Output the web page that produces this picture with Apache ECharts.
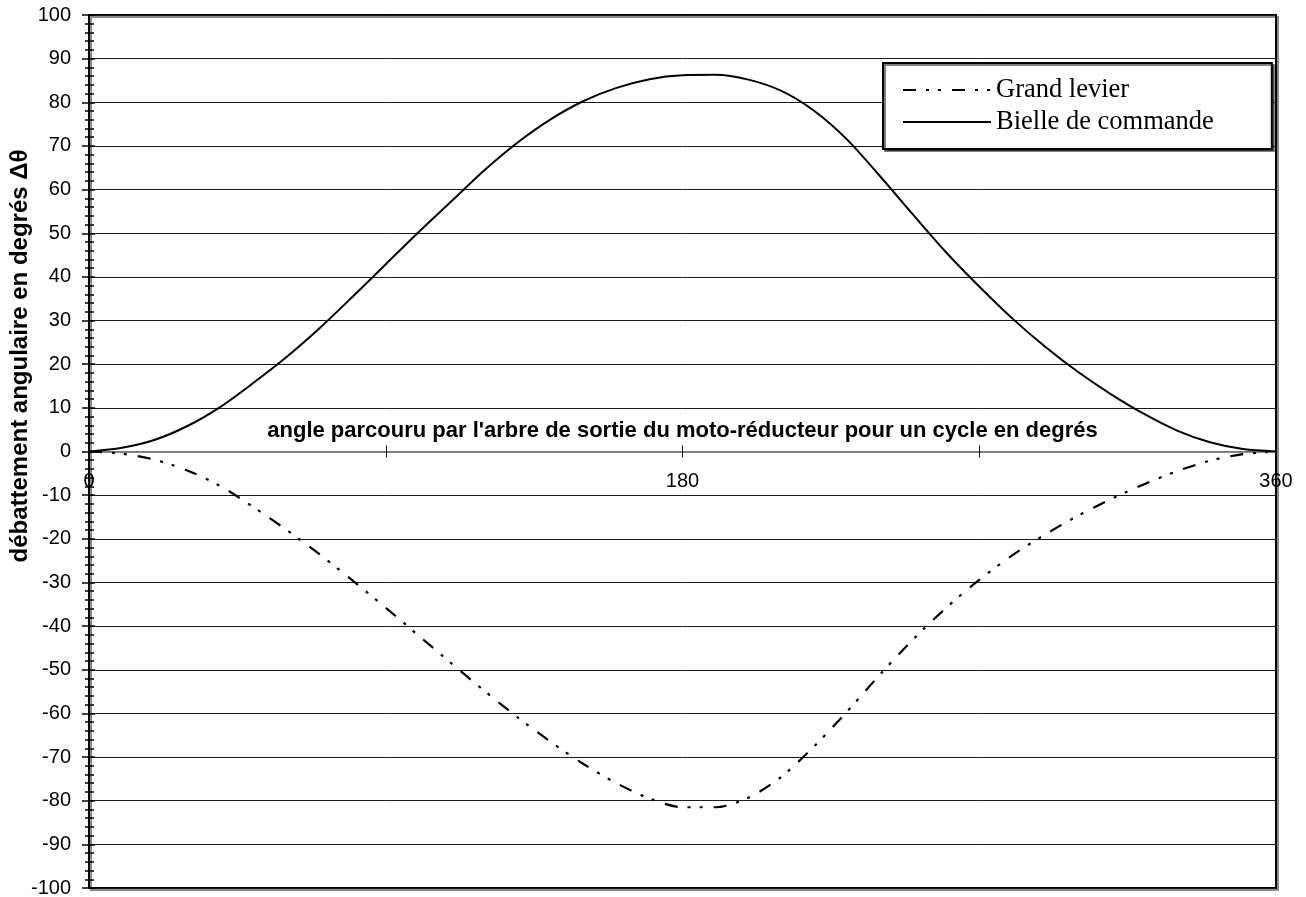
<!DOCTYPE html>
<html>
<head>
<meta charset="utf-8">
<script src="https://cdn.jsdelivr.net/npm/echarts@6/dist/echarts.min.js"></script>
<style>
  html, body { margin: 0; padding: 0; background: #fff; }
  #chart { width: 1306px; height: 897px; }
</style>
</head>
<body>
<div id="chart"></div>
<script>
// angle de l'arbre de sortie (degrés)
const angles = [0, 10, 20, 30, 40, 50, 60, 70, 80, 90, 100, 110, 120, 130, 140, 150, 160, 170, 180,
  190, 200, 210, 220, 230, 240, 250, 260, 270, 280, 290, 300, 310, 320, 330, 340, 350, 360]

// débattement angulaire
const bielle = [0, 0.85, 2.7, 5.9, 10.3, 15.8, 21.7, 28.3, 35.5, 42.9, 50.3, 57.4, 64.5, 70.8, 76.1,
  80.3, 83.3, 85.3, 86.2, 86.3, 85.2, 82.6, 78.0, 71.4, 63.0, 54.2, 45.6, 37.8, 30.5, 24.0,
  18.2, 13.1, 8.6, 4.8, 2.1, 0.55, 0]

const levier = [0, -0.5, -1.9, -4.4, -8.0, -12.8, -18.0, -23.6, -29.6, -35.8, -42.2, -48.6, -54.9,
  -60.9, -66.5, -71.6, -76.0, -79.5, -81.5, -81.5, -79.3, -74.5, -67.5, -59.5, -51.0, -43.0,
  -35.8, -29.4, -23.8, -19.0, -14.7, -10.9, -7.5, -4.5, -2.1, -0.6, 0]

const xTickLabels = ['0', '180', '360']
const seriesNames = ['Grand levier', 'Bielle de commande']
const xTitle = "angle parcouru par l'arbre de sortie du moto-réducteur pour un cycle en degrés"
const yTitle = 'débattement angulaire en degrés Δθ'

const chart = echarts.init(document.getElementById('chart'))

const sans = 'Liberation Sans, Arial, sans-serif'
const serif = 'Liberation Serif, Times New Roman, serif'

const pairs = (ys) => angles.map((a, i) => [a, ys[i]])

// hauteur de la zone de tracé 873 px, l'axe des x passe par 0 (milieu)
const xBase = {
  type: 'value', min: 0, max: 360, interval: 90,
  position: 'bottom', offset: -436.5,
  axisLine: { onZero: false, lineStyle: { color: '#808080', width: 1.5 } },
  splitLine: { show: false },
}
const yBase = {
  type: 'value', min: -100, max: 100, interval: 10,
  position: 'left',
  axisLine: { show: true, onZero: false, lineStyle: { color: '#000', width: 2 } },
}

const option = {
  backgroundColor: '#fff',
  animation: false,
  grid: {
    left: 89, top: 15, right: 30, bottom: 9,
    outerBoundsMode: 'none', containLabel: false,
    show: true, borderColor: '#000', borderWidth: 2,
    shadowColor: 'rgba(0,0,0,0.45)', shadowOffsetX: 2, shadowOffsetY: 2, shadowBlur: 0,
  },
  legend: {
    orient: 'vertical', left: 883, top: 63,
    padding: [13, 58, 13, 19],
    itemGap: 4, itemWidth: 88, itemHeight: 14,
    backgroundColor: '#fff', borderColor: '#000', borderWidth: 2,
    shadowColor: 'rgba(0,0,0,0.5)', shadowOffsetX: 2, shadowOffsetY: 2, shadowBlur: 0,
    itemStyle: { opacity: 0 },
    textStyle: { fontFamily: serif, fontSize: 26.5, color: '#000', lineHeight: 28 },
    data: seriesNames,
  },
  xAxis: [
    {
      ...xBase,
      name: xTitle, nameLocation: 'middle', nameGap: -21,
      nameTextStyle: { fontFamily: sans, fontSize: 22, fontWeight: 'bold', color: '#000', verticalAlign: 'middle' },
      axisTick: { show: true, length: 6, lineStyle: { color: '#000' } },
      axisLabel: {
        margin: 20, fontFamily: sans, fontSize: 20, color: '#000',
        formatter: (v) => (xTickLabels.includes(String(v)) ? String(v) : ''),
      },
    },
    {
      ...xBase,
      axisTick: { show: true, inside: true, length: 6, lineStyle: { color: '#000' } },
      axisLabel: { show: false },
    },
  ],
  yAxis: [
    {
      ...yBase,
      axisTick: { show: true, length: 7, lineStyle: { color: '#000', width: 1.5 } },
      minorTick: { show: true, splitNumber: 5, length: 4, lineStyle: { color: '#000', width: 1.5 } },
      axisLabel: { margin: 18, fontFamily: sans, fontSize: 20, color: '#000' },
      splitLine: { show: true, lineStyle: { color: '#1a1a1a', width: 1 } },
    },
    {
      ...yBase,
      axisTick: { show: true, inside: true, length: 6, lineStyle: { color: '#000', width: 1.5 } },
      minorTick: { show: true, splitNumber: 5, length: 5, lineStyle: { color: '#000', width: 1.5 } },
      axisLabel: { show: false },
      splitLine: { show: false },
    },
  ],
  graphic: [
    {
      type: 'text', x: 20, y: 356, rotation: Math.PI / 2,
      style: {
        text: yTitle, fontFamily: sans, fontSize: 24, fontWeight: 'bold', fill: '#000',
        align: 'center', verticalAlign: 'middle',
      },
    },
  ],
  series: [
    {
      name: seriesNames[0], type: 'line', smooth: 0.3, symbol: 'none',
      xAxisIndex: 0, yAxisIndex: 0,
      data: pairs(levier),
      lineStyle: { color: '#000', width: 2.2, type: [13, 10, 3, 9, 3, 11] },
      itemStyle: { color: '#000' },
    },
    {
      name: seriesNames[1], type: 'line', smooth: 0.3, symbol: 'none',
      xAxisIndex: 0, yAxisIndex: 0,
      data: pairs(bielle),
      lineStyle: { color: '#000', width: 2 },
      itemStyle: { color: '#000' },
    },
  ],
}

chart.setOption(option)
</script>
</body>
</html>
